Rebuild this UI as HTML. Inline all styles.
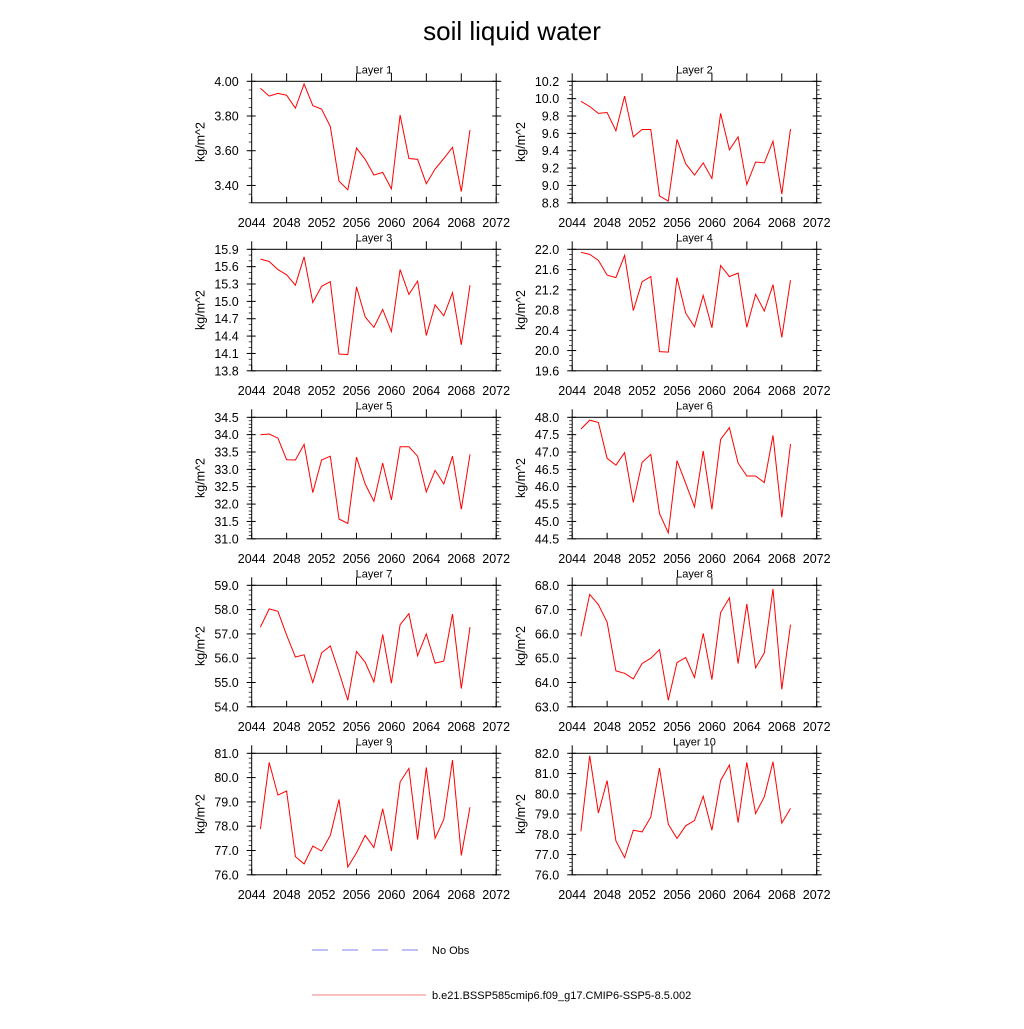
<!DOCTYPE html>
<html><head><meta charset="utf-8"><style>
body{margin:0;background:#fff;}
svg text{font-family:"Liberation Sans",sans-serif;fill:#000;}
</style></head><body>
<svg id="chart" width="1024" height="1024" viewBox="0 0 1024 1024" xmlns="http://www.w3.org/2000/svg">
<text x="512" y="40" font-size="26" text-anchor="middle">soil liquid water</text>
<g id="panels"></g>
<g>
<line x1="312" y1="950" x2="418" y2="950" stroke="#8080f0" stroke-width="1" stroke-dasharray="16,14"/>
<text x="432" y="954" font-size="11">No Obs</text>
<line x1="312" y1="995" x2="426" y2="995" stroke="#f08080" stroke-width="1"/>
<text x="432" y="999" font-size="11">b.e21.BSSP585cmip6.f09_g17.CMIP6-SSP5-8.5.002</text>
</g>
</svg>
<script>
const years = [2045,2046,2047,2048,2049,2050,2051,2052,2053,2054,2055,2056,2057,2058,2059,2060,2061,2062,2063,2064,2065,2066,2067,2068,2069];
const xTicks = [2044,2048,2052,2056,2060,2064,2068,2072];
const layer1 = [3.96,3.915,3.93,3.92,3.845,3.985,3.86,3.84,3.74,3.425,3.375,3.615,3.55,3.46,3.475,3.38,3.805,3.555,3.55,3.41,3.495,3.555,3.62,3.365,3.72];
const layer2 = [9.97,9.91,9.83,9.84,9.63,10.03,9.56,9.645,9.645,8.88,8.82,9.53,9.25,9.12,9.26,9.08,9.83,9.41,9.56,9.01,9.27,9.26,9.51,8.9,9.65];
const layer3 = [15.73,15.69,15.55,15.46,15.28,15.77,14.98,15.26,15.34,14.09,14.08,15.25,14.73,14.55,14.86,14.48,15.55,15.12,15.35,14.41,14.94,14.75,15.15,14.25,15.28];
const layer4 = [21.94,21.9,21.78,21.49,21.44,21.88,20.79,21.36,21.46,19.98,19.97,21.44,20.74,20.47,21.09,20.45,21.68,21.46,21.53,20.46,21.11,20.78,21.3,20.26,21.39];
const layer5 = [34.0,34.02,33.9,33.28,33.27,33.72,32.33,33.27,33.38,31.57,31.44,33.35,32.58,32.08,33.18,32.12,33.65,33.65,33.38,32.35,32.97,32.58,33.38,31.85,33.43];
const layer6 = [47.66,47.92,47.85,46.82,46.62,46.98,45.55,46.7,46.93,45.23,44.67,46.75,46.1,45.42,47.03,45.35,47.36,47.7,46.68,46.31,46.31,46.12,47.48,45.12,47.23];
const layer7 = [57.28,58.03,57.93,56.95,56.05,56.14,55.0,56.22,56.5,55.43,54.27,56.28,55.83,55.02,56.97,54.97,57.38,57.83,56.1,57.0,55.8,55.88,57.82,54.75,57.28];
const layer8 = [65.9,67.63,67.2,66.48,64.48,64.38,64.15,64.78,65.0,65.35,63.27,64.82,65.03,64.2,66.02,64.12,66.88,67.48,64.78,67.23,64.6,65.22,67.85,63.72,66.38];
const layer9 = [77.88,80.62,79.28,79.45,76.75,76.45,77.18,76.98,77.62,79.1,76.32,76.9,77.62,77.12,78.72,76.98,79.82,80.38,77.45,80.42,77.5,78.28,80.72,76.8,78.78];
const layer10 = [78.15,81.88,79.05,80.65,77.68,76.85,78.2,78.12,78.85,81.28,78.5,77.8,78.42,78.68,79.88,78.2,80.65,81.42,78.58,81.55,79.02,79.85,81.58,78.55,79.28];
const yTicks1 = ["3.40","3.60","3.80","4.00"];
const yTicks2 = ["8.8","9.0","9.2","9.4","9.6","9.8","10.0","10.2"];
const yTicks3 = ["13.8","14.1","14.4","14.7","15.0","15.3","15.6","15.9"];
const yTicks4 = ["19.6","20.0","20.4","20.8","21.2","21.6","22.0"];
const yTicks5 = ["31.0","31.5","32.0","32.5","33.0","33.5","34.0","34.5"];
const yTicks6 = ["44.5","45.0","45.5","46.0","46.5","47.0","47.5","48.0"];
const yTicks7 = ["54.0","55.0","56.0","57.0","58.0","59.0"];
const yTicks8 = ["63.0","64.0","65.0","66.0","67.0","68.0"];
const yTicks9 = ["76.0","77.0","78.0","79.0","80.0","81.0"];
const yTicks10 = ["76.0","77.0","78.0","79.0","80.0","81.0","82.0"];
const yRanges = [[3.30,4.00],[8.8,10.2],[13.8,15.9],[19.6,22.0],[31.0,34.5],[44.5,48.0],[54,59],[63,68],[76,81],[76,82]];
const minorSteps = [0.05,0.05,0.1,0.1,0.1,0.1,0.2,0.2,0.2,0.2];
const series = [layer1,layer2,layer3,layer4,layer5,layer6,layer7,layer8,layer9,layer10];
const yTickSets = [yTicks1,yTicks2,yTicks3,yTicks4,yTicks5,yTicks6,yTicks7,yTicks8,yTicks9,yTicks10];

const NS = "http://www.w3.org/2000/svg";
const root = document.getElementById("panels");
function mk(tag, attrs, parent){const e=document.createElementNS(NS,tag);for(const k in attrs)e.setAttribute(k,attrs[k]);parent.appendChild(e);return e;}

const W = 244.5, H = 121.5;
for (let i=0;i<10;i++){
  const col=i%2,row=Math.floor(i/2);
  const x0 = col===0?251.7:572.2, y0 = 81.3+row*168;
  const [ymin,ymax]=yRanges[i];
  const xs = v => x0 + (v-2044)/(2072-2044)*W;
  const ys = v => y0 + H - (v-ymin)/(ymax-ymin)*H;
  const g = mk("g",{},root);
  
  
  const t = mk("text",{x:x0+W/2,y:y0-8,"font-size":"11","text-anchor":"middle"},g);
  
  
  t.textContent = "Layer "+(i+1);
  const fr = mk("rect",{x:x0,y:y0,width:W,height:H,fill:"none",stroke:"#000","stroke-width":"1"},g);
  
  
  // x ticks
  xTicks.forEach(v=>{
    const X=xs(v);
    const tb=mk("line",{x1:X,y1:y0+H,x2:X,y2:y0+H-6,stroke:"#000"},g);
    
    
    const tt=mk("line",{x1:X,y1:y0,x2:X,y2:y0-8,stroke:"#000"},g);
    
    
    const lb=mk("text",{x:X,y:y0+H+24,"font-size":"12.5","text-anchor":"middle"},g);
    
    
    lb.textContent=v;
  });
  // minor y ticks
  const ms=minorSteps[i];
  for(let v=Math.ceil(ymin/ms-1e-6)*ms; v<=ymax+1e-9; v+=ms){
    const Y=ys(v);
    const m1=mk("line",{x1:x0-3,y1:Y,x2:x0,y2:Y,stroke:"#000","stroke-width":"0.7"},g);
    
    
    const m2=mk("line",{x1:x0+W,y1:Y,x2:x0+W+3,y2:Y,stroke:"#000","stroke-width":"0.7"},g);
    
    
  }
  yTickSets[i].forEach(s=>{
    const Y=ys(parseFloat(s));
    const a=mk("line",{x1:x0-5,y1:Y,x2:x0+4,y2:Y,stroke:"#000"},g);
    
    
    const b=mk("line",{x1:x0+W-4,y1:Y,x2:x0+W+5,y2:Y,stroke:"#000"},g);
    
    
    const l=mk("text",{x:x0-13,y:Y+4.5,"font-size":"12.5","text-anchor":"end"},g);
    
    
    l.textContent=s;
  });
  const yt=mk("text",{x:0,y:0,"font-size":"12.5","text-anchor":"middle",transform:`translate(${x0-47},${y0+H/2}) rotate(-90)`},g);
  
  
  yt.textContent="kg/m^2";
  const pts=series[i].map((v,k)=>xs(years[k]).toFixed(1)+","+ys(v).toFixed(1)).join(" ");
  const pl=mk("polyline",{points:pts,fill:"none",stroke:"#ff0000","stroke-width":"1"},g);
  
  
}
</script>
</body></html>
